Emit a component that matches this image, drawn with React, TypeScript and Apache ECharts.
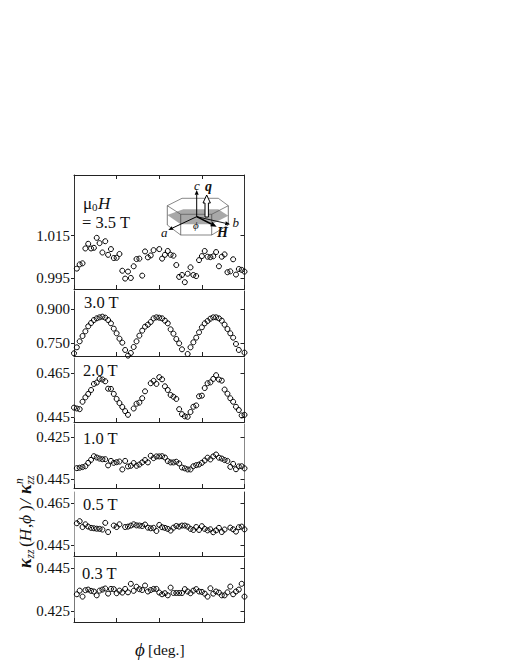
import React, { useEffect, useRef } from "react";
import * as echarts from "echarts";

const phi = Array.from({ length: 61 }, (_, i) => i * 2);
const N = null;
const v35 = [N, 0.9994, 1.0014, 1.0019, 1.0089, 1.0111, 1.0089, 1.0092, 1.0139, 1.0114, 1.007, 1.0123, 1.0059, 1.0086, 1.0044, 1.0045, 1.0063, 0.9984, 0.9947, 0.998, 0.995, 1.0005, 1.0039, 1.0041, 0.9961, 1.0075, 1.0047, 1.0056, 1.0081, N, 1.0086, 1.0041, 1.0059, 1.0077, 1.0059, 1.0055, 1.0011, 0.9955, 0.9964, 0.993, 0.997, 1.0, 0.9964, 0.9959, 1.0034, 1.0053, 1.0077, 1.005, 1.0048, 1.0052, 1.0072, 1.0005, 1.005, 1.0061, 0.9977, 0.9981, 1.0038, 0.9966, 0.9992, 0.9988, 0.998];
const v30 = [0.7059, 0.7324, 0.7588, 0.7823, 0.8029, 0.825, 0.8397, 0.8529, 0.8603, 0.8647, 0.8676, 0.8632, 0.8529, 0.8382, 0.8147, 0.7941, 0.7706, 0.7529, 0.7206, 0.6956, 0.7074, 0.7338, 0.7588, 0.7838, 0.8059, 0.8235, 0.8323, 0.8441, 0.8603, 0.8647, 0.8632, 0.8603, 0.85, 0.8382, 0.8117, 0.7926, 0.7691, 0.75, 0.7235, N, 0.7029, 0.7324, 0.7544, 0.775, 0.7985, 0.8206, 0.8382, 0.8485, 0.8588, 0.8647, 0.8647, 0.8603, 0.85, 0.8323, 0.8132, 0.7941, 0.775, 0.7471, 0.7206, N, 0.7088];
const v20 = [0.4492, 0.4488, 0.4485, 0.4519, 0.4539, 0.4555, 0.4573, 0.4601, 0.4607, 0.4624, 0.4621, 0.4613, 0.4579, 0.4578, 0.4555, 0.4532, 0.4513, 0.4495, 0.4476, 0.4459, N, 0.4488, 0.451, 0.4515, 0.4535, 0.4567, N, 0.4604, 0.4615, 0.4601, 0.4632, 0.4622, 0.459, 0.4573, 0.455, 0.4542, 0.4532, 0.4485, 0.4462, 0.4452, 0.445, 0.4472, 0.4496, 0.4502, 0.4544, 0.4547, 0.4582, 0.4604, 0.4608, 0.4624, 0.4641, 0.4621, 0.4616, 0.4575, 0.4556, 0.4535, 0.4519, 0.4496, 0.4481, 0.4456, 0.4459];
const v10 = [N, 0.4397, 0.4395, 0.4392, 0.4388, 0.4372, 0.4358, 0.4341, 0.4347, 0.4352, 0.4355, 0.4355, 0.4384, 0.4363, 0.4372, 0.4369, 0.4366, 0.4403, 0.4363, 0.4389, 0.4386, 0.4373, 0.4386, 0.438, 0.437, 0.4359, 0.437, 0.4339, 0.435, 0.4342, 0.4342, 0.4341, 0.4347, 0.4364, 0.437, 0.437, 0.4367, 0.4375, 0.4394, 0.4398, 0.4403, 0.4403, 0.4388, 0.4383, 0.438, 0.4372, 0.4361, 0.4348, 0.4356, 0.4342, 0.4333, 0.4348, 0.4352, 0.4359, 0.4363, 0.4391, 0.4377, 0.4402, 0.4389, 0.4388, 0.4398];
const v05 = [N, 0.4554, 0.4564, 0.4536, 0.4549, 0.4538, 0.4532, 0.453, 0.4528, 0.4527, 0.4524, 0.4556, 0.4512, N, 0.4543, 0.4536, 0.4549, N, 0.4536, 0.4538, 0.4543, 0.4549, 0.4544, 0.4543, 0.4541, 0.4548, 0.4533, 0.453, 0.4532, 0.4517, 0.4546, 0.4535, 0.4532, 0.4527, 0.4519, 0.4533, 0.4541, 0.4538, 0.4543, 0.4543, 0.4538, 0.4527, 0.4522, 0.4536, 0.4522, 0.454, 0.4527, 0.452, 0.4525, 0.4511, 0.452, 0.4532, 0.4512, 0.4524, N, 0.4533, 0.4525, 0.4514, 0.4535, 0.4538, 0.4525];
const v03 = [N, 0.4328, 0.4345, 0.4317, 0.4347, 0.435, 0.4344, 0.4341, 0.4323, 0.4345, 0.435, 0.4355, 0.4331, 0.4353, 0.4352, 0.4333, 0.4345, 0.4336, 0.4353, 0.4337, 0.4377, 0.4344, 0.4363, 0.4352, 0.4348, 0.4369, 0.4341, 0.4348, 0.4353, 0.4353, 0.4336, 0.4328, 0.4333, 0.4323, 0.4359, 0.4334, 0.4334, 0.4334, 0.4334, 0.4352, 0.4341, 0.4333, 0.4345, 0.4352, 0.4341, 0.4339, 0.4331, 0.4317, 0.4356, 0.4331, 0.4341, 0.4336, 0.4323, 0.4323, 0.4337, 0.4364, 0.4328, 0.4341, 0.435, 0.4377, 0.4317];

const panels = [
  { values: v35, ticks: [0.995, 1.015], min: 0.9898, max: 1.0435, top: 175, bottom: 289, inverse: false, leftC: "#333", rightC: "#333", hasTop: true },
  { values: v30, ticks: [0.75, 0.9], min: 0.694, max: 0.981, top: 291, bottom: 356, inverse: false, leftC: "#333", rightC: "#333", hasTop: false },
  { values: v20, ticks: [0.445, 0.465], min: 0.4426, max: 0.472, top: 358, bottom: 422, inverse: false, leftC: "#666", rightC: "#444", hasTop: false },
  { values: v10, ticks: [0.425, 0.445], min: 0.419, max: 0.449, top: 424, bottom: 488, inverse: true, leftC: "#666", rightC: "#888", hasTop: false },
  { values: v05, ticks: [0.445, 0.465], min: 0.4397, max: 0.4704, top: 492, bottom: 556, inverse: false, leftC: "#999", rightC: "#333", hasTop: false },
  { values: v03, ticks: [0.425, 0.445], min: 0.4198, max: 0.4498, top: 558, bottom: 622, inverse: false, leftC: "#777", rightC: "#333", hasTop: false },
];
const panelLabels = [
  { text: "3.0 T", x: 84, y: 302 },
  { text: "2.0 T", x: 83, y: 370 },
  { text: "1.0 T", x: 83, y: 438 },
  { text: "0.5 T", x: 83, y: 504 },
  { text: "0.3 T", x: 82, y: 573 },
];

const SERIF = '"Liberation Serif", serif';
const INK = "#111";
const txt = (text: string, x: number, y: number, size: number, extra: any = {}) => ({
  type: "text",
  x,
  y,
  silent: true,
  style: { text, fontFamily: SERIF, fontSize: size, fill: INK, verticalAlign: "middle", ...extra },
});
const line = (x1: number, y1: number, x2: number, y2: number, w = 0.7, c = "#444") => ({
  type: "line",
  shape: { x1, y1, x2, y2 },
  style: { stroke: c, lineWidth: w },
});
const arrow = (x1: number, y1: number, x2: number, y2: number, w = 1, head = 4) => {
  const a = Math.atan2(y2 - y1, x2 - x1);
  const px = Math.cos(a + Math.PI / 2) * head * 0.5;
  const py = Math.sin(a + Math.PI / 2) * head * 0.5;
  const bx = x2 - Math.cos(a) * head * 1.2;
  const by = y2 - Math.sin(a) * head * 1.2;
  return [
    line(x1, y1, bx, by, w, "#000"),
    { type: "polygon", shape: { points: [[x2, y2], [bx + px, by + py], [bx - px, by - py]] }, style: { fill: "#000" } },
  ];
};

function inset() {
  const cx = 196.7;
  const cy = 216.7;
  return [
    { type: "polygon", shape: { points: [[167.3, 215], [183.3, 209.3], [218.3, 209.3], [228.3, 215.7], [211.7, 224.3], [180.7, 224.3]] }, style: { fill: "#a8a8a8" } },
    { type: "polygon", shape: { points: [[167.3, 205.7], [182, 198.3], [218.3, 198.3], [228.3, 205.7], [211.7, 214.3], [180.7, 214.3]] }, style: { fill: "none", stroke: "#555", lineWidth: 0.7 } },
    { type: "polyline", shape: { points: [[167.3, 225], [180.7, 235], [211.7, 235], [228.3, 225]] }, style: { fill: "none", stroke: "#555", lineWidth: 0.7 } },
    line(167.3, 205.7, 167.3, 225),
    line(180.7, 214.3, 180.7, 235),
    line(211.7, 214.3, 211.7, 235),
    line(228.3, 205.7, 228.3, 225),
    ...arrow(cx, cy, 196.7, 190, 1, 4),
    ...arrow(cx, cy, 168.3, 230, 1, 4),
    ...arrow(cx, cy, 230, 224.3, 0.9, 4),
    ...arrow(cx, cy, 216.7, 226.7, 1.5, 5),
    { type: "polygon", shape: { points: [[205, 217], [205, 203], [203, 203], [206.7, 195], [210.4, 203], [208.4, 203], [208.4, 217]] }, style: { fill: "#fff", stroke: "#000", lineWidth: 1 } },
    txt("c", 194, 185, 13, { fontStyle: "italic" }),
    txt("q", 205, 186, 14, { fontStyle: "italic", fontWeight: "bold" }),
    txt("a", 161, 232, 13, { fontStyle: "italic" }),
    txt("b", 232.5, 222, 13, { fontStyle: "italic" }),
    txt("H", 217, 232, 14, { fontStyle: "italic", fontWeight: "bold" }),
    txt("\u03d5", 193, 225, 11, { fontStyle: "italic" }),
  ];
}

function yTitle() {
  const it = { fontStyle: "italic" };
  return {
    type: "group",
    x: 25,
    y: 568,
    rotation: Math.PI / 2,
    children: [
      txt("\u03ba", 0, 0, 18, { ...it, fontWeight: "bold" }),
      txt("zz", 9.5, 5, 11.5, it),
      txt("(", 21, 0, 17.5),
      txt("H", 26.5, 0, 17.5, it),
      txt(",", 40, 0, 17.5),
      txt("\u03d5", 44, 0, 17.5, it),
      txt(")", 57, 0, 17.5),
      txt("/", 64, 0, 17.5, it),
      txt("\u03ba", 74, 0, 18, { ...it, fontWeight: "bold" }),
      txt("zz", 83.5, 5, 11.5, it),
      txt("n", 84, -6, 11.5, it),
    ],
  };
}

export default function App() {
  const ref = useRef<HTMLDivElement>(null);
  useEffect(() => {
    const chart = echarts.init(ref.current!, undefined, { renderer: "svg" });
    const L = 74;
    const W = 170.5;
    const grid: any[] = [];
    const xAxis: any[] = [];
    const yAxis: any[] = [];
    const series: any[] = [];
    panels.forEach((p, k) => {
      grid.push({ left: L, width: W, top: p.top, height: p.bottom - p.top, containLabel: false });
      ["bottom", "top"].forEach((pos) => {
        const shown = pos === "bottom" || p.hasTop;
        xAxis.push({
          gridIndex: k,
          type: "value",
          position: pos,
          show: shown,
          min: 0,
          max: 120,
          interval: 30,
          splitLine: { show: false },
          axisLabel: { show: false },
          axisLine: { show: true, onZero: false, lineStyle: { color: "#222", width: 1 } },
          axisTick: { show: true, inside: true, length: 4, lineStyle: { color: "#222", width: 1 } },
        });
      });
      ["left", "right"].forEach((pos) => {
        const isLeft = pos === "left";
        yAxis.push({
          gridIndex: k,
          type: "value",
          position: pos,
          min: p.min,
          max: p.max,
          inverse: p.inverse,
          splitLine: { show: false },
          axisLine: { show: true, onZero: false, lineStyle: { color: isLeft ? p.leftC : p.rightC, width: 1 } },
          axisTick: { show: true, inside: !isLeft, length: isLeft ? 3 : 4, customValues: p.ticks, lineStyle: { color: "#222", width: 1 } },
          axisLabel: isLeft
            ? { show: true, customValues: p.ticks, margin: 4, fontFamily: SERIF, fontSize: 15, color: INK, formatter: (v: number) => v.toFixed(3) }
            : { show: false },
        });
      });
      series.push({
        type: "scatter",
        xAxisIndex: k * 2,
        yAxisIndex: k * 2,
        clip: false,
        symbol: "circle",
        symbolSize: 5,
        itemStyle: { color: "transparent", borderColor: "#000", borderWidth: 1, opacity: 1 },
        data: p.values.map((v, i) => (v === null ? null : [phi[i], v])).filter(Boolean),
      });
    });
    chart.setOption({
      animation: false,
      backgroundColor: "#fff",
      grid,
      xAxis,
      yAxis,
      series,
      graphic: [
        txt("\u03bc", 83, 203, 17),
        txt("0", 92, 207, 11),
        txt("H", 98, 203, 17, { fontStyle: "italic" }),
        txt("= 3.5 T", 82, 222.5, 16.5),
        ...panelLabels.map((l) => txt(l.text, l.x, l.y, 16.5)),
        ...inset(),
        yTitle(),
        txt("\u03d5", 135, 649, 19, { fontStyle: "italic" }),
        txt("[deg.]", 148, 649, 15.5),
      ],
    });
    return () => chart.dispose();
  }, []);
  return <div ref={ref} style={{ position: "absolute", left: 0, top: 0, width: 510, height: 660 }} />;
}
